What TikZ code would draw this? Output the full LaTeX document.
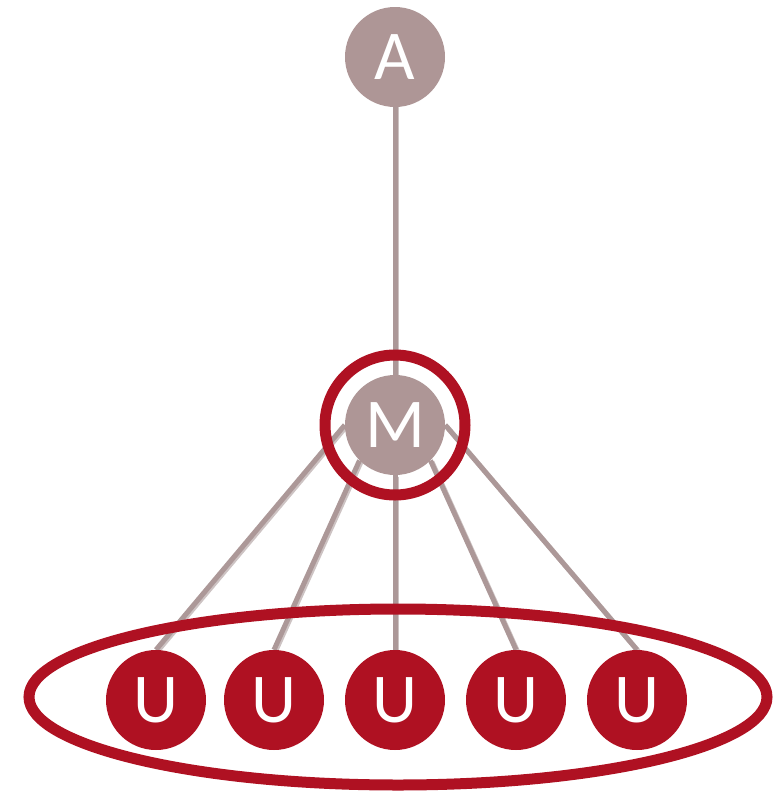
\documentclass[tikz,border=0pt]{standalone}
\usepackage{fontspec}
\setsansfont{Carlito}
\usetikzlibrary{shapes.geometric}
\pgfdeclarelayer{edges}
\pgfdeclarelayer{rings}
\pgfsetlayers{edges,rings,main}
\definecolor{mauve}{RGB}{174,150,150}
\definecolor{edgec}{RGB}{172,152,152}
\definecolor{shadowc}{RGB}{205,195,195}
\definecolor{crimson}{RGB}{175,17,34}
\tikzset{
  basenode/.style={circle, minimum size=100pt, inner sep=0pt, text=white,
    font=\sffamily\fontsize{70}{70}\selectfont},
  graynode/.style={basenode, fill=mauve},
  rednode/.style={basenode, fill=crimson},
  link/.style={draw=edgec, line width=5pt},
  linkshadow/.style={draw=shadowc, line width=5pt, transform canvas={xshift=1.5pt,yshift=-1.5pt}},
  ringc/.style={circle, draw=crimson, line width=11pt, minimum size=140pt, inner sep=0pt},
  groupring/.style={ellipse, draw=crimson, line width=11pt, minimum width=738pt, minimum height=176pt, inner sep=0pt}
}
\begin{document}
\begin{tikzpicture}[x=1pt,y=-1pt]
\useasboundingbox (0,0) rectangle (782,793);
\path (395,57) node[graynode] (A) {A};
\path (395,425) node[graynode] (M) {M};
\path (156,700) node[rednode] (U1) {U};
\path (274,700) node[rednode] (U2) {U};
\path (395,700) node[rednode] (U3) {U};
\path (516,700) node[rednode] (U4) {U};
\path (637,700) node[rednode] (U5) {U};
\begin{pgfonlayer}{edges}
  \foreach \s/\t in {A.center/M.north, M.west/U1.north, M.south west/U2.north, M.south/U3.north, M.south east/U4.north, M.east/U5.north}{
    \draw[linkshadow] (\s) -- (\t);
    \draw[link] (\s) -- (\t);
  }
\end{pgfonlayer}
\begin{pgfonlayer}{rings}
  \path (395,425) node[ringc] (Mring) {};
  \path (398,697) node[groupring] (Ugroup) {};
\end{pgfonlayer}
\end{tikzpicture}
\end{document}
